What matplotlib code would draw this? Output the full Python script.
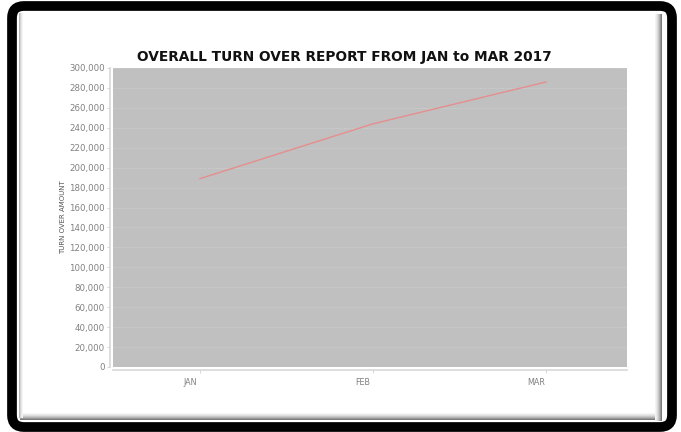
import matplotlib.pyplot as plt
from matplotlib.patches import FancyBboxPatch, Rectangle
from matplotlib.ticker import FuncFormatter, MultipleLocator
import matplotlib.transforms as mtransforms

months = ["JAN", "FEB", "MAR"]
turnover = [189000, 244000, 286000]

W, H = 681, 432
fig = plt.figure(figsize=(W / 100, H / 100), dpi=100)
fig.patch.set_facecolor("white")


def px_box(x0, y0, x1, y1):
    # pixel box given with a top-left origin
    return x0, H - y1, x1 - x0, y1 - y0


# black rounded frame around the report
x, y, w, h = px_box(12, 6, 672, 427)
fig.patches.append(FancyBboxPatch((x, y), w, h, boxstyle="round,pad=0,rounding_size=12",
                                  transform=None, facecolor="white", edgecolor="black",
                                  linewidth=7, zorder=0))
# bevel shading on the inner panel edges
shades = ["#7a7a7a", "#979797", "#b2b2b2", "#c9c9c9", "#dcdcdc", "#eaeaea", "#f4f4f4"]
for i, g in enumerate(shades):
    x, y, w, h = px_box(661 - i, 14, 662 - i, 421)
    fig.patches.append(Rectangle((x, y), w, h, transform=None, facecolor=g, edgecolor="none", zorder=1))
    x, y, w, h = px_box(20, 419 - i, 662 - i, 420 - i)
    fig.patches.append(Rectangle((x, y), w, h, transform=None, facecolor=g, edgecolor="none", zorder=1))
for i, g in enumerate(["#b8b8b8", "#d4d4d4", "#e8e8e8", "#f4f4f4"]):
    x, y, w, h = px_box(19 + i, 13, 20 + i, 418)
    fig.patches.append(Rectangle((x, y), w, h, transform=None, facecolor=g, edgecolor="none", zorder=1))

ax = fig.add_axes([113 / W, 1 - 367 / H, (627 - 113) / W, (367 - 68) / H])
ax.set_zorder(5)
ax.set_facecolor("#c0c0c0")

xs = list(range(len(months)))
ax.plot(xs, turnover, color="#e68e8e", linewidth=1.0, zorder=3)

ax.set_xlim(-0.503, 2.468)
ax.set_ylim(0, 300000)
ax.yaxis.set_major_locator(MultipleLocator(20000))
ax.yaxis.set_major_formatter(FuncFormatter(lambda v, p: f"{int(v):,}"))
ax.set_xticks(xs)
ax.set_xticklabels(months)

ax.grid(axis="y", color="#d4d4d4", linestyle=(0, (2, 2)), linewidth=0.5)
ax.set_axisbelow(True)

for side in ["top", "right"]:
    ax.spines[side].set_visible(False)
for side in ["left", "bottom"]:
    ax.spines[side].set_color("#d8d8d8")
    ax.spines[side].set_linewidth(1.2)
    ax.spines[side].set_position(("outward", 2))

ax.tick_params(axis="both", colors="#d0d0d0", labelcolor="#808080", labelsize=6.2,
               length=2, width=0.6, pad=2)
ax.tick_params(axis="x", pad=4, labelsize=5.8)
shift = mtransforms.ScaledTranslation(-10 / 100, 0, fig.dpi_scale_trans)
for lbl in ax.get_xticklabels():
    lbl.set_transform(lbl.get_transform() + shift)

ax.set_ylabel("TURN OVER AMOUNT", fontsize=5.0, color="#555555", labelpad=2)

fig.text(344 / W, 1 - 57 / H, "OVERALL TURN OVER REPORT FROM JAN to MAR 2017",
         fontsize=9.9, fontweight="bold", color="#111111", ha="center", va="center")

fig.savefig("out.png", dpi=100)
